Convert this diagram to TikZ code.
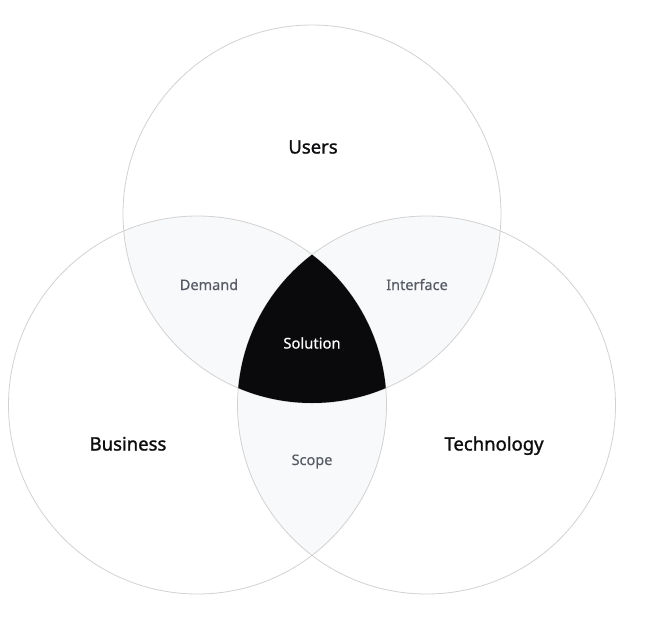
\documentclass[tikz,border=0pt]{standalone}
\usepackage{fontspec}
\setmainfont{Noto Sans}
\newfontfamily\mainlab[FakeBold=1.3]{Noto Sans}
\newfontfamily\sublab[FakeBold=0.4]{Noto Sans}
\definecolor{ringcol}{HTML}{D2D2D2}
\definecolor{pairfill}{HTML}{F8F9FA}
\definecolor{corefill}{HTML}{0A0A0C}
\definecolor{subtext}{HTML}{585B65}
\definecolor{maintext}{HTML}{0E0E10}
\begin{document}
\begin{tikzpicture}[x=1pt,y=-1pt,
  ring/.style={draw=ringcol,line width=0.8pt},
  mainlabel/.style={anchor=base,text=maintext,font=\mainlab\fontsize{18.5}{20}\selectfont,inner sep=0pt},
  sublabel/.style={anchor=base,text=subtext,font=\sublab\fontsize{14.5}{16}\selectfont,inner sep=0pt},
  corelabel/.style={anchor=base,text=white,font=\sublab\fontsize{14.8}{16}\selectfont,inner sep=0pt}]
\useasboundingbox[fill=white] (0,0) rectangle (648,619);
\coordinate (U) at (312,214);
\coordinate (B) at (197.5,405);
\coordinate (T) at (426.5,405);
% pairwise overlaps
\begin{scope}\clip (U) circle (189pt); \fill[pairfill] (B) circle (189pt);\end{scope}
\begin{scope}\clip (U) circle (189pt); \fill[pairfill] (T) circle (189pt);\end{scope}
\begin{scope}\clip (B) circle (189pt); \fill[pairfill] (T) circle (189pt);\end{scope}
% outlines
\draw[ring] (U) circle (189pt);
\draw[ring] (B) circle (189pt);
\draw[ring] (T) circle (189pt);
% triple overlap
\begin{scope}\clip (U) circle (189pt); \clip (B) circle (189pt); \fill[corefill] (T) circle (189pt);\end{scope}
% labels
\node[mainlabel] (users) at (313,153.5) {Users};
\node[mainlabel] (business) at (128,450.5) {Business};
\node[mainlabel] (technology) at (494,450.5) {Technology};
\node[sublabel] (demand) at (209,290) {Demand};
\node[sublabel] (interface) at (417,290) {Interface};
\node[sublabel] (scope) at (312,465) {Scope};
\node[corelabel] (solution) at (312,348.5) {Solution};
\end{tikzpicture}
\end{document}
